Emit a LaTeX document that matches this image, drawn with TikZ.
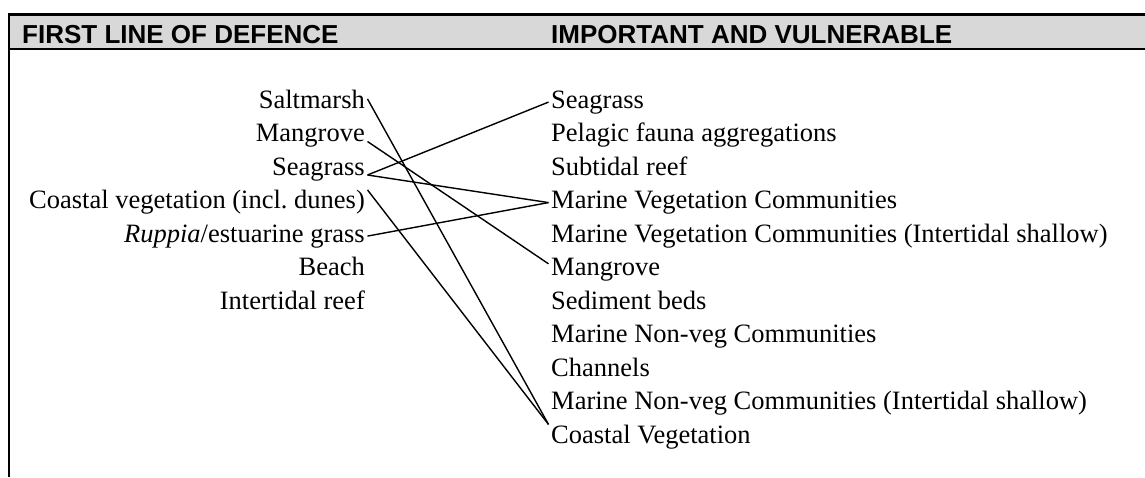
\documentclass[tikz,border=0pt]{standalone}
\usepackage{fontspec}
\setmainfont{Liberation Serif}
\setsansfont{Liberation Sans}
\usetikzlibrary{calc}
\definecolor{headgray}{HTML}{D8D8D8}
\frenchspacing
\begin{document}
\begin{tikzpicture}[x=1pt,y=-1pt,
  lt/.style={inner xsep=2.5pt,inner ysep=0pt,anchor=base east,font=\fontsize{26.5}{30}\selectfont},
  rt/.style={inner xsep=2.5pt,inner ysep=0pt,anchor=base west,font=\fontsize{26.5}{30}\selectfont},
  hd/.style={anchor=base west,inner sep=0pt,font=\sffamily\bfseries\fontsize{26}{30}\selectfont},
  conn/.style={line width=1.4pt},
  frameline/.style={line width=2.3pt}]
\useasboundingbox (0,0) rectangle (1145,477);
% header band
\fill[headgray] (9,14.5) rectangle (1145,48.8);
\draw[frameline] (7.9,14.5) -- (1145,14.5);
\draw[frameline] (7.9,48.8) -- (1145,48.8);
\draw[frameline] (9,13.4) -- (9,477);
\node[hd] (h1) at (22,43) {FIRST LINE OF DEFENCE};
\node[hd] (h2) at (551,43) {IMPORTANT AND VULNERABLE};
% left column
\node[lt] (ls) at (367.5,108)   {Saltmarsh};
\node[lt] (lm) at (367.5,141.5) {Mangrove};
\node[lt] (lg) at (367.5,175)   {Seagrass};
\node[lt] (lc) at (367.5,208.5) {Coastal vegetation (incl. dunes)};
\node[lt] (lr) at (367.5,242)   {\textit{Ruppia}/estuarine grass};
\node[lt] (lb) at (367.5,275.5) {Beach};
\node[lt] (li) at (367.5,309)   {Intertidal reef};
% right column
\node[rt] (rs)   at (548.5,108)   {Seagrass};
\node[rt] (rp)   at (548.5,141.5) {Pelagic fauna aggregations};
\node[rt] (rsr)  at (548.5,175)   {Subtidal reef};
\node[rt] (rmv)  at (548.5,208.5) {Marine Vegetation Communities};
\node[rt] (rmvi) at (548.5,242)   {Marine Vegetation Communities (Intertidal shallow)};
\node[rt] (rm)   at (548.5,275.5) {Mangrove};
\node[rt] (rsb)  at (548.5,309)   {Sediment beds};
\node[rt] (rmn)  at (548.5,342.5) {Marine Non-veg Communities};
\node[rt] (rch)  at (548.5,376)   {Channels};
\node[rt] (rmni) at (548.5,409.5) {Marine Non-veg Communities (Intertidal shallow)};
\node[rt] (rcv)  at (548.5,443)   {Coastal Vegetation};
% connectors
\draw[conn] (ls.east) -- (rcv.north west);
\draw[conn] (lm.base east) -- ($(rm.west)!0.5!(rm.north west)$);
\draw[conn] (lg.base east) -- (rs.west);
\draw[conn] (lg.base east) -- (rmv.west);
\draw[conn] (lc.north east) -- (rcv.north west);
\draw[conn] (lr.east) -- (rmv.west);
\end{tikzpicture}
\end{document}
